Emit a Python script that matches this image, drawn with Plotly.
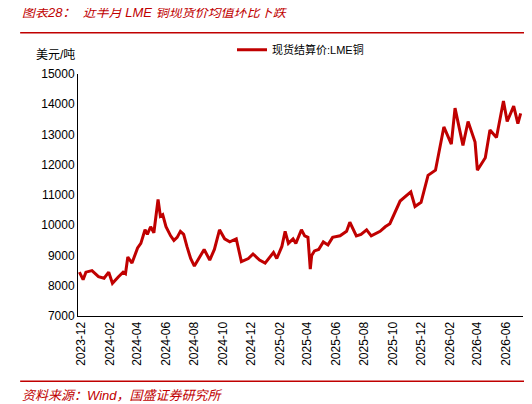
import plotly.graph_objects as go

# LME copper spot settlement price, USD/t
dates = [
    "2023-11-28", "2023-12-06", "2023-12-12", "2023-12-25", "2024-01-08", "2024-01-20",
    "2024-01-30", "2024-02-07", "2024-02-20", "2024-03-01", "2024-03-06", "2024-03-11",
    "2024-03-20", "2024-04-01", "2024-04-08", "2024-04-17", "2024-04-22", "2024-04-29",
    "2024-05-06", "2024-05-15", "2024-05-20", "2024-05-25", "2024-06-01", "2024-06-11",
    "2024-06-18", "2024-06-25", "2024-07-02", "2024-07-09", "2024-07-16", "2024-07-24",
    "2024-08-01", "2024-08-12", "2024-08-22", "2024-09-03", "2024-09-13", "2024-09-24",
    "2024-10-05", "2024-10-16", "2024-10-30", "2024-11-10", "2024-11-25", "2024-12-05",
    "2024-12-19", "2024-12-31", "2025-01-18", "2025-01-25", "2025-02-05", "2025-02-12",
    "2025-02-19", "2025-03-01", "2025-03-07", "2025-03-19", "2025-03-26", "2025-04-02",
    "2025-04-07", "2025-04-10", "2025-04-16", "2025-04-25", "2025-05-05", "2025-05-15",
    "2025-05-25", "2025-06-10", "2025-06-24", "2025-07-01", "2025-07-15", "2025-07-25",
    "2025-08-06", "2025-08-16", "2025-09-04", "2025-09-15", "2025-09-25", "2025-10-17",
    "2025-11-09", "2025-11-18", "2025-12-01", "2025-12-16", "2026-01-01", "2026-01-19",
    "2026-02-04", "2026-02-12", "2026-02-25", "2026-03-01", "2026-03-12", "2026-03-27",
    "2026-04-01", "2026-04-18", "2026-04-28", "2026-05-12", "2026-05-27", "2026-06-04",
    "2026-06-18", "2026-06-27", "2026-07-03",
]
prices = [
    8450, 8200, 8450, 8500, 8300, 8250,
    8450, 8080, 8300, 8450, 8400, 8950,
    8750, 9250, 9400, 9850, 9700, 9950,
    9750, 10850, 10300, 10350, 9950, 9650,
    9500, 9600, 9800, 9700, 9300, 8900,
    8650, 8950, 9200, 8850, 9200, 9850,
    9550, 9450, 9550, 8800, 8900, 9050,
    8850, 8750, 9100, 8900, 9300, 9800,
    9400, 9550, 9400, 9850, 9650, 9600,
    8550, 9000, 9150, 9200, 9450, 9350,
    9600, 9650, 9800, 10100, 9650, 9700,
    9850, 9650, 9800, 9950, 10050, 10800,
    11100, 10620, 10760, 11650, 11820, 13250,
    12680, 13870, 12900, 12640, 13430, 12750,
    11820, 12230, 13150, 12900, 14110, 13430,
    13940, 13360, 13700,
]
series_name = "现货结算价:LME铜"

font = "Liberation Sans, Noto Sans CJK SC, sans-serif"
red = "#C00000"

fig = go.Figure()
fig.add_trace(go.Scatter(
    x=dates, y=prices, mode="lines", name=series_name,
    line=dict(color=red, width=3),
))

fig.update_layout(
    width=532, height=404,
    margin=dict(l=70, r=17, t=66, b=96),
    paper_bgcolor="white", plot_bgcolor="white",
    font=dict(family=font, size=12, color="black"),
    showlegend=True,
    legend=dict(orientation="h", x=0.5, xanchor="center", y=1.1, yanchor="middle",
                font=dict(size=11), bgcolor="rgba(0,0,0,0)"),
    xaxis=dict(
        type="date", range=["2023-11-25", "2026-07-08"],
        tickformat="%Y-%m", dtick="M2", tick0="2023-12-01", tickangle=-90,
        showgrid=False, showline=True, linecolor="black", linewidth=1,
        ticks="", tickfont=dict(size=12),
    ),
    yaxis=dict(
        range=[7000, 15000], dtick=1000, tickformat="d", showgrid=False,
        showline=True, linecolor="black", linewidth=1, ticks="",
        tickfont=dict(size=12),
    ),
    shapes=[
        dict(type="line", xref="paper", yref="paper", x0=-0.13, x1=1.04,
             y0=1.17, y1=1.17, line=dict(color=red, width=1.5)),
        dict(type="line", xref="paper", yref="paper", x0=-0.13, x1=1.04,
             y0=-0.27, y1=-0.27, line=dict(color=red, width=1.5)),
    ],
    annotations=[
        dict(text="<i>图表28：  近半月 LME 铜现货价均值环比下跌</i>", xref="paper", yref="paper",
             x=-0.13, y=1.215, xanchor="left", yanchor="bottom", showarrow=False,
             font=dict(size=13, color=red)),
        dict(text="美元/吨", xref="paper", yref="paper", x=-0.1, y=1.04,
             xanchor="left", yanchor="bottom", showarrow=False, font=dict(size=12)),
        dict(text="<i>资料来源：Wind，国盛证券研究所</i>", xref="paper", yref="paper",
             x=-0.13, y=-0.29, xanchor="left", yanchor="top", showarrow=False,
             font=dict(size=13, color=red)),
    ],
)

fig.write_html("out.html")
